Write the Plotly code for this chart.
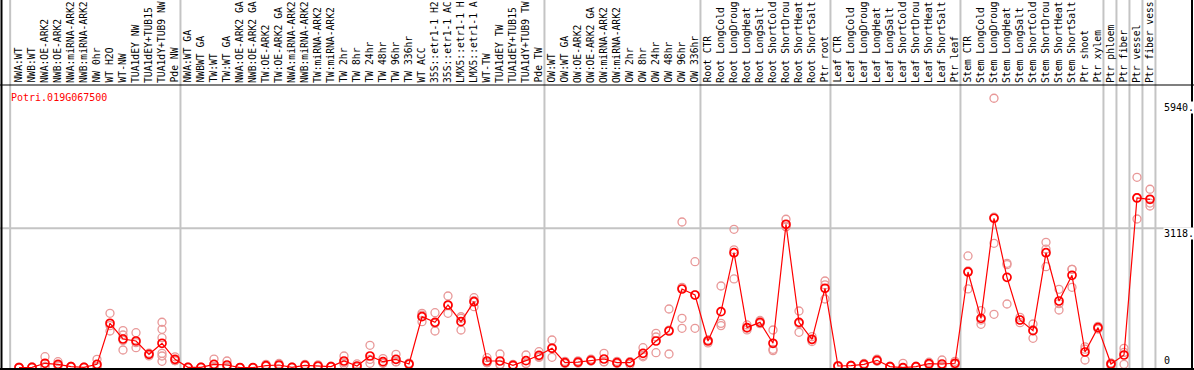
import plotly.graph_objects as go

labels = [
    "NWA:WT", "NWB:WT", "NWA:OE-ARK2", "NWB:OE-ARK2", "NWA:miRNA-ARK2", "NWB:miRNA-ARK2",
    "NW 0hr", "WT H2O", "WT-NW", "TUA1dEY NW", "TUA1dEY+TUB15 NW", "TUA1dY+TUB9 NW", "Pde NW",
    "NWA:WT GA", "NWBWT GA", "TW:WT", "TW:WT GA", "NWA:OE-ARK2 GA", "NWB:OE-ARK2 GA",
    "TW:OE-ARK2", "TW:OE-ARK2 GA", "NWA:miRNA-ARK2", "NWB:miRNA-ARK2", "TW:miRNA-ARK2",
    "TW:miRNA-ARK2", "TW 2hr", "TW 8hr", "TW 24hr", "TW 48hr", "TW 96hr", "TW 336hr", "WT ACC",
    "35S::etr1-1 H2O", "35S::etr1-1 ACC", "LMX5::etr1-1 H2O", "LMX5::etr1-1 ACC", "WT-TW",
    "TUA1dEY TW", "TUA1dEY+TUB15 TW", "TUA1dY+TUB9 TW", "Pde TW",
    "OW:WT", "OW:WT GA", "OW:OE-ARK2", "OW:OE-ARK2 GA", "OW:miRNA-ARK2", "OW:miRNA-ARK2",
    "OW 2hr", "OW 8hr", "OW 24hr", "OW 48hr", "OW 96hr", "OW 336hr",
    "Root CTR", "Root LongCold", "Root LongDrought", "Root LongHeat", "Root LongSalt",
    "Root ShortCold", "Root ShortDrought", "Root ShortHeat", "Root ShortSalt", "Ptr root",
    "Leaf CTR", "Leaf LongCold", "Leaf LongDrought", "Leaf LongHeat", "Leaf LongSalt",
    "Leaf ShortCold", "Leaf ShortDrought", "Leaf ShortHeat", "Leaf ShortSalt", "Ptr leaf",
    "Stem CTR", "Stem LongCold", "Stem LongDrought", "Stem LongHeat", "Stem LongSalt",
    "Stem ShortCold", "Stem ShortDrought", "Stem ShortHeat", "Stem ShortSalt", "Ptr shoot",
    "Ptr xylem", "Ptr phloem", "Ptr fiber", "Ptr vessel", "Ptr fiber vessel",
]

means = [
    10, 15, 105, 82, 30, 15, 82, 997, 647, 602, 305, 551, 193,
    15, 15, 82, 67, 8, 8, 52, 67, 15, 60, 45, 30, 156, 45, 268, 141, 193, 89,
    1145, 1019, 1405, 1033, 1479, 156, 156, 60, 163, 283,
    439, 119, 130, 171, 201, 119, 119, 327, 602, 825, 1762, 1628,
    602, 1257, 2572, 900, 1019, 551, 3206, 1019, 640, 1778,
    45, 52, 82, 171, 30, 8, 30, 96, 89, 105,
    2142, 1108, 3340, 2023, 1071, 833, 2572, 1495, 2068, 357, 900,
    89, 290, 3793, 3763,
]

replicates = [
    [0, 10, 20], [5, 15, 25], [252, 30, 35], [140, 60, 45], [20, 35, 35], [10, 15, 20],
    [193, 30, 25], [1220, 825, 945], [833, 736, 402, 617], [788, 453, 565], [330, 270, 315],
    [1020, 863, 676, 328, 268, 150], [250, 165, 165],
    [10, 20, 15], [10, 20, 15], [200, 25, 20], [156, 30, 15], [5, 10, 10], [5, 10, 10],
    [80, 40, 35], [100, 50, 50], [10, 20, 15], [80, 50, 50], [70, 35, 30], [40, 25, 25],
    [268, 120, 80], [90, 25, 20], [506, 105, 193], [210, 110, 105], [305, 140, 135],
    [110, 80, 77], [1220, 1033, 1180], [1234, 825, 998], [1606, 1220, 1390],
    [1108, 848, 1143], [1568, 1368, 1500], [230, 120, 118], [312, 80, 76], [80, 50, 50],
    [290, 100, 99], [364, 250, 235],
    [625, 238, 454], [150, 100, 107], [160, 115, 115], [200, 155, 158], [327, 140, 136],
    [150, 100, 107], [140, 80, 137], [453, 250, 278], [773, 342, 691], [1316, 312, 847],
    [3257, 1108, 885, 1798], [2371, 885, 1628],
    [560, 620, 626], [1829, 996, 946], [3094, 1986, 2636], [960, 850, 890], [1060, 990, 1007],
    [848, 417, 388], [3318, 3150, 3150], [1272, 796, 989], [700, 590, 630], [1941, 1539, 1854],
    [30, 55, 50], [40, 60, 56], [60, 100, 86], [200, 150, 163], [20, 40, 30], [105, 0, 0],
    [20, 40, 30], [130, 80, 78], [178, 50, 40], [150, 80, 85],
    [2499, 1763, 2164], [1279, 975, 1070], [6017, 2782, 1198, 3363], [2336, 1428, 2305],
    [1130, 1010, 1073], [982, 662, 855], [2804, 2260, 2652], [1756, 1294, 1435],
    [2202, 1800, 2202], [420, 178, 473], [930, 870, 900],
    [50, 110, 107], [439, 82, 349], [4254, 3324, 3801], [3987, 3680, 3614],
]

gene = "Potri.019G067500"
y_ticks = [5940, 3118, 0]
y_tick_text = ["5940.", "3118.", "0"]
group_ends = [12, 40, 52, 62, 72, 83, 84, 85, 86, 87]
MAX_CHARS = 14  # header column shows at most 14 characters

W, H = 1194, 370
x0_px, dx_px = 19.0, 13.0
zero_px, k = 368.0, 0.04483
xr = [-x0_px / dx_px, (W - x0_px) / dx_px]
yr = [-(H - zero_px) / k, zero_px / k]

FONT = "DejaVu Sans Mono, Liberation Mono, monospace"
idx = list(range(len(labels)))

rx, ry = [], []
for i, reps in enumerate(replicates):
    for v in reps:
        rx.append(i)
        ry.append(v)

fig = go.Figure()
fig.add_trace(go.Scatter(
    x=rx, y=ry, mode="markers",
    marker=dict(symbol="circle-open", size=8, color="#e89898", line=dict(width=1.3, color="#e89898")),
    hoverinfo="skip", showlegend=False, cliponaxis=False,
))
fig.add_trace(go.Scatter(
    x=idx, y=means, mode="lines+markers",
    line=dict(color="#ff0000", width=1.2),
    marker=dict(symbol="circle-open", size=8, color="#ff0000", line=dict(width=1.7, color="#ff0000")),
    showlegend=False, cliponaxis=False,
))

shapes = []
gray = "#c4c4c4"
shapes.append(dict(type="line", xref="x", yref="paper", x0=-0.68, x1=-0.68, y0=0, y1=1,
                   line=dict(color=gray, width=2), layer="below"))
for e in group_ends:
    shapes.append(dict(type="line", xref="x", yref="paper", x0=e + 0.42, x1=e + 0.42, y0=0, y1=1,
                       line=dict(color=gray, width=2), layer="below"))
shapes.append(dict(type="line", xref="paper", yref="y", x0=0, x1=1, y0=y_ticks[1], y1=y_ticks[1],
                   line=dict(color=gray, width=2), layer="below"))
shapes.append(dict(type="line", xref="paper", yref="paper", x0=0, x1=1,
                   y0=(H - 85) / H, y1=(H - 85) / H, line=dict(color="black", width=1.2)))
shapes.append(dict(type="line", xref="paper", yref="paper", x0=0, x1=1,
                   y0=(H - 369) / H, y1=(H - 369) / H, line=dict(color="black", width=2)))
shapes.append(dict(type="line", xref="paper", yref="paper", x0=1.5 / W, x1=1.5 / W,
                   y0=0, y1=1, line=dict(color="black", width=2)))
shapes.append(dict(type="line", xref="paper", yref="paper", x0=1192 / W, x1=1192 / W,
                   y0=0, y1=1, line=dict(color="black", width=2)))

ann = []
for i, lab in enumerate(labels):
    shown = lab[:MAX_CHARS].rstrip()
    ann.append(dict(x=i, y=(H - 84) / H, xref="x", yref="paper", text=shown, textangle=-90,
                    showarrow=False, xanchor="center", yanchor="bottom", xshift=-1,
                    borderpad=0, font=dict(family=FONT, size=9.7, color="black")))
ann.append(dict(x=10 / W, y=(H - 97) / H, xref="paper", yref="paper", text=gene,
                showarrow=False, xanchor="left", yanchor="middle", borderpad=0,
                font=dict(family=FONT, size=10, color="#ff0000")))
for v, t in zip(y_ticks[:2], y_tick_text[:2]):
    ann.append(dict(x=1163 / W, y=v, xref="paper", yref="y", text=t, showarrow=False,
                    xanchor="left", yanchor="top", yshift=1, borderpad=0, bgcolor="white",
                    font=dict(family=FONT, size=10, color="black")))
ann.append(dict(x=1163 / W, y=(H - 367) / H, xref="paper", yref="paper", text=y_tick_text[2],
                showarrow=False, xanchor="left", yanchor="bottom", borderpad=0,
                font=dict(family=FONT, size=10, color="black")))

fig.update_layout(
    width=W, height=H, margin=dict(l=0, r=0, t=0, b=0),
    paper_bgcolor="white", plot_bgcolor="white",
    xaxis=dict(range=xr, domain=[0, 1], showgrid=False, zeroline=False, showticklabels=False,
               ticks="", showline=False, fixedrange=True),
    yaxis=dict(range=yr, domain=[0, 1], showgrid=False, zeroline=False, showticklabels=False,
               ticks="", showline=False, fixedrange=True),
    shapes=shapes, annotations=ann, showlegend=False,
)
fig.write_html(
    "out.html",
    config={"displayModeBar": False},
    post_script="document.body.style.margin='0';document.body.style.padding='0';"
                "document.body.style.overflow='hidden';",
)
